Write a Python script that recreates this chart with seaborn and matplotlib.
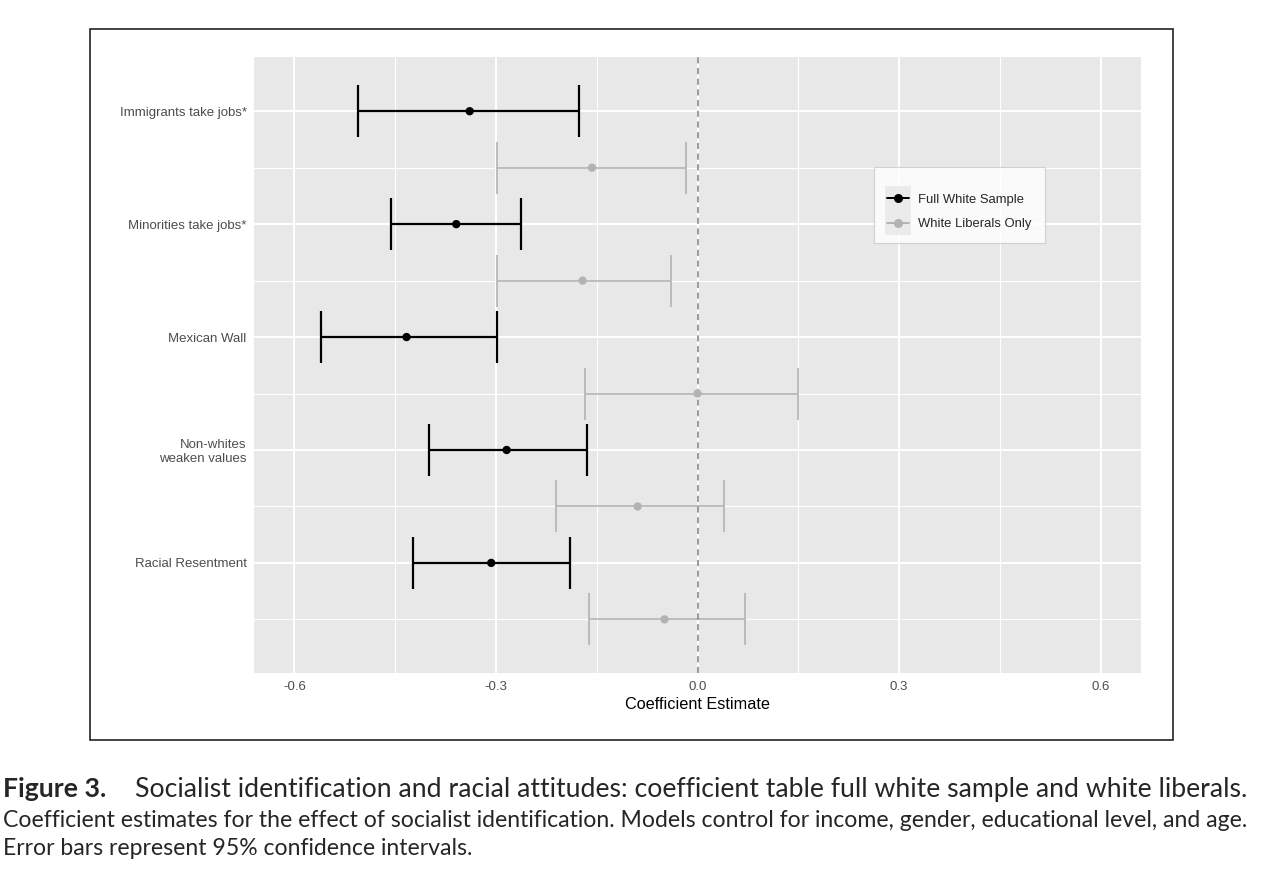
import numpy as np
import pandas as pd
import matplotlib
matplotlib.use("Agg")
import matplotlib.pyplot as plt
import seaborn as sns
from matplotlib.lines import Line2D
from matplotlib.patches import Rectangle
from matplotlib.legend_handler import HandlerLine2D

# values
items = ["Immigrants take jobs*", "Minorities take jobs*", "Mexican Wall",
         "Non-whites\nweaken values", "Racial Resentment"]
groups = ["Full White Sample", "White Liberals Only"]

full_est = [-0.339, -0.359, -0.433, -0.284, -0.307]
full_lo = [-0.505, -0.456, -0.561, -0.400, -0.424]
full_hi = [-0.176, -0.262, -0.299, -0.165, -0.189]

lib_est = [-0.157, -0.171, 0.000, -0.089, -0.049]
lib_lo = [-0.299, -0.299, -0.168, -0.210, -0.161]
lib_hi = [-0.017, -0.040, 0.150, 0.040, 0.070]

x_ticks = [-0.6, -0.3, 0.0, 0.3, 0.6]
x_minor = [-0.45, -0.15, 0.15, 0.45]

caption_bold = "Figure 3."
caption_1 = "Socialist identification and racial attitudes: coefficient table full white sample and white liberals."
caption_2 = "Coefficient estimates for the effect of socialist identification. Models control for income, gender, educational level, and age."
caption_3 = "Error bars represent 95% confidence intervals."

colors = {"Full White Sample": "black", "White Liberals Only": "#b3b3b3"}

rows = []
for i, item in enumerate(items):
    rows.append(dict(item=item, group=groups[0], est=full_est[i],
                     lo=full_lo[i], hi=full_hi[i], pos=2 * i))
    rows.append(dict(item=item, group=groups[1], est=lib_est[i],
                     lo=lib_lo[i], hi=lib_hi[i], pos=2 * i + 1))
df = pd.DataFrame(rows)


# legend key with the grey ggplot-style background square
class KeyWithBg(HandlerLine2D):
    def create_artists(self, legend, orig_handle, xdescent, ydescent,
                       width, height, fontsize, trans):
        arts = super().create_artists(legend, orig_handle, xdescent, ydescent,
                                      width, height, fontsize, trans)
        padx, pady = 1.4, 5.4
        bg = Rectangle((-xdescent - padx, -ydescent - pady),
                       width + 2 * padx, height + 2 * pady,
                       facecolor="#ebebeb", edgecolor="none", transform=trans)
        return [bg] + list(arts)


sns.set_theme(style="darkgrid")
plt.rcParams["font.family"] = ["Liberation Sans", "DejaVu Sans"]

W, H = 1277, 871
fig = plt.figure(figsize=(W / 100, H / 100), dpi=100)
fig.patch.set_facecolor("white")

# outer frame of the embedded figure
fig.patches.append(Rectangle((90 / W, 1 - 740 / H), 1083 / W, 711 / H,
                             transform=fig.transFigure, fill=False,
                             edgecolor="#222222", linewidth=1.2))

ax = fig.add_axes([254 / W, 1 - 673 / H, 887 / W, 616 / H])
ax.set_facecolor("#e8e8e8")

# error bars
for g in groups:
    sub = df[df["group"] == g]
    lw = 1.6 if g == groups[0] else 1.2
    ax.errorbar(sub["est"], sub["pos"],
                xerr=[sub["est"] - sub["lo"], sub["hi"] - sub["est"]],
                fmt="none", ecolor=colors[g], elinewidth=lw,
                capsize=18.4, capthick=lw, zorder=2)

ax.axvline(0, color="#808080", linestyle=(0, (4, 3)), linewidth=1.1, zorder=2.5)

sns.scatterplot(data=df, x="est", y="pos", hue="group", palette=colors,
                s=36, edgecolor="none", legend=False, ax=ax, zorder=3)

ax.set_xlim(-0.66, 0.66)
ax.set_ylim(9.95, -0.96)
ax.set_xticks(x_ticks)
ax.set_xticklabels([f"{t:.1f}" for t in x_ticks])
ax.set_xticks(x_minor, minor=True)
ax.set_yticks([0, 2, 4, 6, 8])
ax.set_yticklabels(items)
ax.set_yticks([1, 3, 5, 7, 9], minor=True)

ax.grid(which="major", color="white", linewidth=1.4)
ax.grid(which="minor", color="white", linewidth=0.8)
for s in ax.spines.values():
    s.set_visible(False)

ax.tick_params(which="major", length=2.9, width=0.8, color="#333333",
               labelsize=9.5, labelcolor="#4d4d4d", pad=2.4)
ax.tick_params(which="minor", length=0)
ax.tick_params(axis="x", pad=2.5)
for lab in ax.get_yticklabels():
    lab.set_horizontalalignment("right")
    lab.set_multialignment("right")

ax.set_xlabel("Coefficient Estimate", fontsize=11.7, color="black", labelpad=3)
ax.set_ylabel("")

handles = [Line2D([], [], color=colors[g], marker="o", markersize=5.5,
                  linewidth=1.4) for g in groups]
leg = ax.legend(handles, groups, loc="upper left",
                bbox_to_anchor=((874 - 254) / 887, (673 - 167) / 616),
                borderaxespad=0, fontsize=9.4, frameon=True, fancybox=False,
                handlelength=1.7, handletextpad=0.7, labelspacing=0.95,
                borderpad=1.0, title=" ", title_fontsize=0.5,
                handler_map={Line2D: KeyWithBg()})
leg.get_frame().set_facecolor("white")
leg.get_frame().set_edgecolor("#c8c8c8")
leg.get_frame().set_linewidth(0.8)

# caption below the figure
cap_font = ["Lato", "DejaVu Sans"]
fig.text(3 / W, 1 - 797 / H, caption_bold, family=cap_font, fontweight="bold",
         fontsize=19.2, va="baseline", ha="left")
fig.text(135 / W, 1 - 797 / H, caption_1, family=cap_font,
         fontsize=19.2, va="baseline", ha="left")
fig.text(3 / W, 1 - 827 / H, caption_2, family=cap_font,
         fontsize=16.6, va="baseline", ha="left")
fig.text(3 / W, 1 - 855 / H, caption_3, family=cap_font,
         fontsize=16.6, va="baseline", ha="left")

fig.savefig("out.png", dpi=100, facecolor="white")
